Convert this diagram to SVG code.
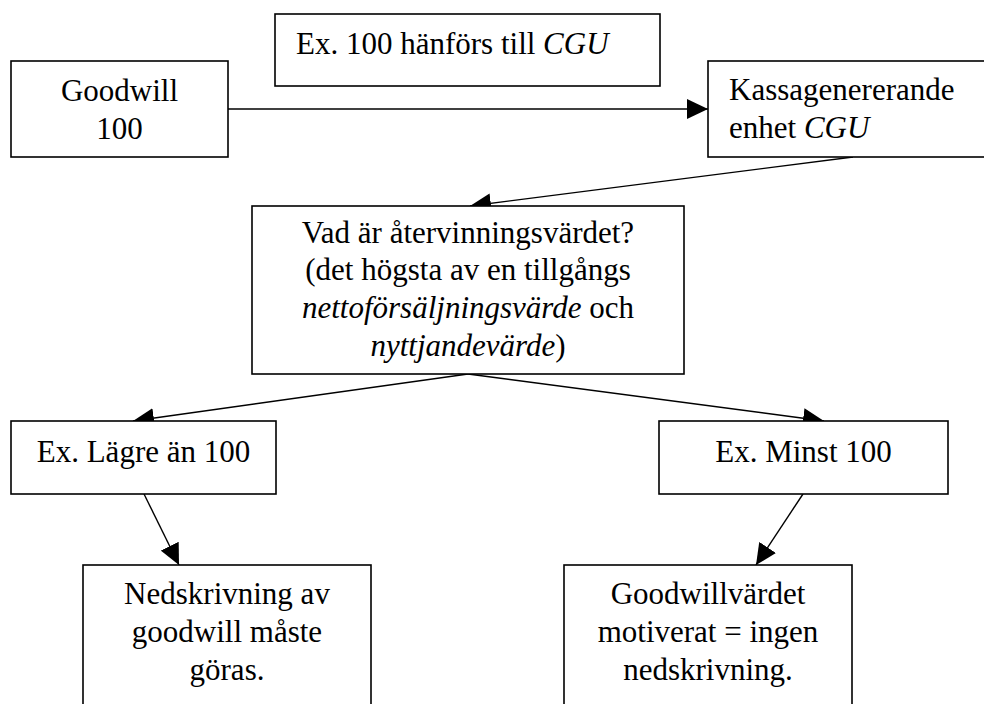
<svg xmlns="http://www.w3.org/2000/svg" width="984" height="704" viewBox="0 0 984 704" font-family="'Liberation Serif', 'Times New Roman', Times, 'DejaVu Serif', serif">
<style>
  .box { fill: #ffffff; stroke: #000000; stroke-width: 1.6; }
  text { font-family: 'Liberation Serif', 'Times New Roman', Times, 'DejaVu Serif', serif; font-size: 31px; fill: #000000; }
  .c { text-anchor: middle; }
  .i { font-style: italic; }
  .conn { stroke: #000000; stroke-width: 1.4; fill: none; marker-end: url(#arrow); }
</style>
<defs>
  <marker id="arrow" markerUnits="userSpaceOnUse" markerWidth="22" markerHeight="20" refX="21" refY="10" orient="auto">
    <path d="M0,0 L21,10 L0,20 Z" fill="#000000"/>
  </marker>
</defs>
<rect x="0" y="0" width="984" height="704" fill="#ffffff"/>

<g id="connectors">
  <line class="conn" x1="228" y1="109" x2="708" y2="109"/>
  <line class="conn" x1="853" y1="157" x2="470" y2="206"/>
  <line class="conn" x1="468" y1="374" x2="133" y2="421"/>
  <line class="conn" x1="468" y1="374" x2="824" y2="421"/>
  <line class="conn" x1="144" y1="494" x2="179" y2="565"/>
  <line class="conn" x1="803" y1="494" x2="756" y2="565"/>
</g>

<g id="note-cgu">
  <rect class="box" x="275" y="14" width="385" height="72"/>
  <text x="296" y="54">Ex. 100 hänförs till <tspan class="i">CGU</tspan></text>
</g>

<g id="goodwill">
  <rect class="box" x="11" y="61" width="217" height="96"/>
  <text class="c" x="119.5" y="101">Goodwill</text>
  <text class="c" x="119.5" y="139">100</text>
</g>

<g id="kassagenererande">
  <rect class="box" x="708" y="61" width="290" height="96"/>
  <text x="729" y="100">Kassagenererande</text>
  <text x="729" y="138">enhet <tspan class="i">CGU</tspan></text>
</g>

<g id="atervinningsvarde">
  <rect class="box" x="252" y="206" width="432" height="168"/>
  <text class="c" x="468" y="243">Vad är återvinningsvärdet?</text>
  <text class="c" x="468" y="280">(det högsta av en tillgångs</text>
  <text class="c" x="468" y="318"><tspan class="i">nettoförsäljningsvärde</tspan> och</text>
  <text class="c" x="468" y="356"><tspan class="i">nyttjandevärde</tspan>)</text>
</g>

<g id="lagre">
  <rect class="box" x="11" y="421" width="265" height="73"/>
  <text class="c" x="143.5" y="462">Ex. Lägre än 100</text>
</g>

<g id="minst">
  <rect class="box" x="659" y="421" width="289" height="73"/>
  <text class="c" x="803.5" y="462">Ex. Minst 100</text>
</g>

<g id="nedskrivning">
  <rect class="box" x="83" y="565" width="288" height="170"/>
  <text class="c" x="227" y="604">Nedskrivning av</text>
  <text class="c" x="227" y="642">goodwill måste</text>
  <text class="c" x="227" y="680">göras.</text>
</g>

<g id="motiverat">
  <rect class="box" x="564" y="565" width="288" height="170"/>
  <text class="c" x="708" y="604">Goodwillvärdet</text>
  <text class="c" x="708" y="642">motiverat = ingen</text>
  <text class="c" x="708" y="680">nedskrivning.</text>
</g>
</svg>
